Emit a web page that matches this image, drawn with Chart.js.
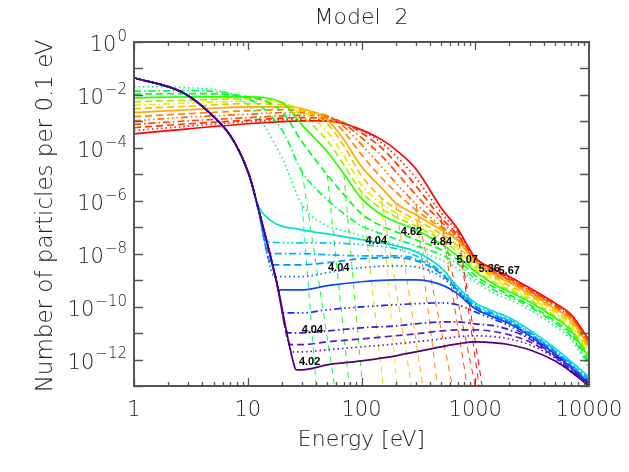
<!DOCTYPE html>
<html>
<head>
<meta charset="utf-8">
<title>Model 2</title>
<script src="https://cdn.jsdelivr.net/npm/chart.js@4.4.1/dist/chart.umd.min.js"></script>
<style>
  html, body { margin: 0; padding: 0; background: #fff; }
  #wrap { width: 629px; height: 472px; }
</style>
</head>
<body>
<div id="wrap"><canvas id="myChart" width="629" height="472"></canvas></div>
<script>
// ---- data (log10 of particles per 0.1 eV) ----

// energy grid for the hot curves [eV]
const hotE = [1, 3, 10, 20, 30, 50, 70, 100, 150, 200, 300, 500, 700, 1000, 1500, 2000, 3000, 5000, 7000, 10000];

// hot curves, from red (lowest at 1 eV) up to spring green (highest at 1 eV)
const hot0  = [-3.47, -3.28, -3.09, -3.01, -2.98, -2.98, -3.09, -3.32, -3.69, -4.07, -4.79, -6.26, -7.06, -8.15, -8.61, -8.87, -9.29, -9.86, -10.31, -11.26];
const hot1  = [-3.35, -3.18, -3.01, -2.94, -2.92, -2.94, -3.07, -3.35, -3.81, -4.30, -5.13, -6.45, -7.17, -8.19, -8.64, -8.91, -9.33, -9.89, -10.35, -11.30];
const hot2  = [-3.24, -3.09, -2.96, -2.88, -2.86, -2.88, -3.05, -3.43, -4.00, -4.56, -5.43, -6.64, -7.29, -8.19, -8.68, -8.95, -9.37, -9.93, -10.39, -11.33];
const hot3  = [-3.11, -2.98, -2.86, -2.79, -2.77, -2.82, -3.09, -3.62, -4.30, -4.90, -5.77, -6.79, -7.36, -8.23, -8.72, -8.99, -9.40, -9.97, -10.42, -11.37];
const hot4  = [-2.98, -2.84, -2.73, -2.67, -2.67, -2.79, -3.20, -3.88, -4.71, -5.32, -6.11, -6.95, -7.44, -8.27, -8.76, -9.02, -9.44, -10.01, -10.46, -11.41];
const hot5  = [-2.82, -2.71, -2.60, -2.56, -2.60, -2.82, -3.39, -4.26, -5.13, -5.66, -6.34, -7.02, -7.47, -8.31, -8.80, -9.06, -9.48, -10.05, -10.50, -11.44];
const hot6  = [-2.67, -2.56, -2.45, -2.45, -2.52, -2.94, -3.69, -4.71, -5.51, -6.08, -6.53, -7.10, -7.51, -8.31, -8.83, -9.10, -9.52, -10.08, -10.54, -11.52];
const hot7  = [-2.52, -2.43, -2.33, -2.37, -2.56, -3.09, -3.92, -5.05, -5.89, -6.30, -6.72, -7.25, -7.70, -8.42, -8.91, -9.21, -9.59, -10.16, -10.65, -11.63];
const hot8  = [-2.39, -2.31, -2.24, -2.29, -2.60, -3.39, -4.30, -5.40, -6.11, -6.45, -6.83, -7.36, -7.81, -8.50, -8.99, -9.29, -9.67, -10.24, -10.73, -11.71];
const hot9  = [-2.26, -2.20, -2.14, -2.29, -2.79, -3.73, -4.64, -5.66, -6.30, -6.61, -6.95, -7.47, -7.93, -8.61, -9.10, -9.37, -9.74, -10.35, -10.84, -11.82];
const hot10 = [-2.11, -2.07, -2.07, -2.29, -3.13, -4.15, -4.98, -5.92, -6.53, -6.79, -7.10, -7.63, -8.08, -8.68, -9.18, -9.44, -9.82, -10.42, -10.92, -11.94];
const hot11 = [-1.97, -1.95, -2.07, -2.64, -3.77, -5.02, -5.77, -6.49, -6.95, -7.17, -7.47, -7.85, -8.23, -8.83, -9.29, -9.55, -9.93, -10.54, -11.03, -12.09];
const hot12 = [-1.86, -1.84, -2.14, -3.32, -4.90, -5.96, -6.49, -6.95, -7.25, -7.44, -7.70, -8.04, -8.38, -8.95, -9.40, -9.63, -10.01, -10.61, -11.14, -12.20];
const hot13 = [-1.69, -1.73, -2.37, -4.37, -6.15, -6.95, -7.13, -7.32, -7.51, -7.66, -7.89, -8.23, -8.57, -9.06, -9.52, -9.74, -10.12, -10.73, -11.26, -12.31];
const hotSeries = [hot0, hot1, hot2, hot3, hot4, hot5, hot6, hot7, hot8, hot9, hot10, hot11, hot12, hot13];

// thin thermal parts of the hot curves: they leave the curve at hotE[start] and reach 1e-13 at endE
const thermStart = [12, 12, 11, 11, 10, 10, 9, 8, 8, 7, 6, 5, 4, 4];
const thermEndE  = [1150, 1080, 1000, 850, 630, 465, 345, 275, 205, 155, 102, 78, 58, 40];

// shared cold core of the cyan..purple curves
const coreE   = [1, 2.7, 4.6, 7.4, 10.4, 12, 18, 25.8, 28.6];
const coreLog = [-1.35, -1.92, -2.67, -3.69, -5.09, -6.07, -9.10, -12.27, -12.95];

// where each cold curve leaves the core
const coolKneeE   = [15.6, 14.6, 15.5, 16.4, 17.4, 18.5, 20.6, 22.6, 23.9, 24.9, 26.8];
const coolKneeLog = [-6.72, -7.55, -8.00, -8.42, -8.87, -9.37, -10.23, -10.99, -11.44, -11.71, -12.39];

// tails of the cold curves, from cyan (top) to purple (bottom)
const tailE  = [30, 50, 100, 200, 300, 500, 700, 1000, 1500, 2000, 3000, 5000, 7000, 10000];
const cool1  = [-7.10, -7.25, -7.47, -7.70, -7.93, -8.53, -9.25, -9.86, -10.20, -10.42, -10.88, -11.56, -12.09, -12.65];
const cool2  = [-7.59, -7.59, -7.66, -7.81, -8.08, -8.68, -9.33, -9.93, -10.27, -10.50, -10.95, -11.63, -12.16, -12.73];
const cool3  = [-8.00, -8.04, -8.08, -8.08, -8.19, -8.72, -9.37, -9.97, -10.31, -10.54, -10.99, -11.67, -12.20, -12.77];
const cool4  = [-8.42, -8.34, -8.19, -8.15, -8.26, -8.76, -9.40, -10.01, -10.35, -10.58, -11.03, -11.71, -12.24, -12.81];
const cool5  = [-8.87, -8.72, -8.53, -8.46, -8.50, -8.87, -9.44, -10.05, -10.39, -10.61, -11.07, -11.75, -12.28, -12.84];
const cool6  = [-9.37, -9.21, -9.06, -8.99, -8.99, -9.17, -9.52, -10.08, -10.42, -10.65, -11.10, -11.78, -12.31, -12.88];
const cool7  = [-10.24, -10.12, -10.01, -9.93, -9.89, -9.86, -9.93, -10.20, -10.50, -10.73, -11.18, -11.82, -12.35, -12.88];
const cool8  = [-10.99, -10.92, -10.80, -10.73, -10.65, -10.58, -10.58, -10.65, -10.73, -10.88, -11.22, -11.86, -12.39, -12.92];
const cool9  = [-11.44, -11.33, -11.22, -11.10, -11.03, -10.92, -10.88, -10.88, -10.95, -11.07, -11.33, -11.90, -12.43, -12.92];
const cool10 = [-11.71, -11.63, -11.52, -11.41, -11.33, -11.22, -11.14, -11.10, -11.14, -11.22, -11.44, -11.94, -12.47, -12.96];
const cool11 = [-12.39, -12.20, -12.05, -11.86, -11.71, -11.52, -11.41, -11.33, -11.37, -11.44, -11.63, -12.05, -12.47, -13.00];
const coolSeries = [cool1, cool2, cool3, cool4, cool5, cool6, cool7, cool8, cool9, cool10, cool11];

// kappa labels written on the plot
const annText = ['4.62', '4.84', '5.07', '5.36', '5.67', '4.04', '4.04', '4.04', '4.02'];
const annE    = [275, 503, 851, 1327, 1987, 135, 63, 37, 35];
const annLog  = [-7.17, -7.55, -8.23, -8.57, -8.65, -7.51, -8.53, -10.88, -12.09];

// axes
const xDecades = [1, 10, 100, 1000, 10000];
const xTickLabels = ['1', '10', '100', '1000', '10000'];
const yLabelExp = [0, -2, -4, -6, -8, -10, -12];

// ---- styles ----
const dashes = {
  solid: [],
  dot: [1.5, 3],
  dash: [7, 4],
  dashdot: [7, 3, 1.5, 3],
  dddot: [7, 3, 1.5, 3, 1.5, 3, 1.5, 3],
  thin: [6, 5]
};
const hotHue = [0, 6, 12, 18, 25, 32, 40, 50, 60, 75, 110, 125, 135, 150];
const hotStyle = ['solid', 'dot', 'dash', 'dashdot', 'dddot', 'dash', 'solid', 'dash', 'dashdot', 'dash', 'solid', 'dash', 'dashdot', 'dot'];
const coolColor = ['rgb(0,225,205)', 'rgb(0,200,230)', 'rgb(0,175,245)', 'rgb(0,145,255)', 'rgb(0,110,255)', 'rgb(15,70,250)',
                   'rgb(35,40,235)', 'rgb(60,25,215)', 'rgb(90,25,200)', 'rgb(100,20,170)', 'rgb(80,0,120)'];
const coolStyle = ['solid', 'dddot', 'dashdot', 'dash', 'dot', 'solid', 'dddot', 'dashdot', 'dash', 'dot', 'solid'];
const textColor = '#222';
const axisColor = '#555';
const fontName = '"DejaVu Sans", sans-serif';

function hotColor(i) {
  const h = hotHue[i];
  const l = (h > 45 && h < 90) ? 46 : 50;
  return 'hsl(' + h + ',100%,' + l + '%)';
}

// ---- datasets ----
const datasets = [];
let order = 0;
function addLine(points, color, style, width) {
  datasets.push({
    data: points,
    borderColor: color,
    borderWidth: width,
    borderDash: dashes[style],
    borderCapStyle: 'butt',
    pointRadius: 0,
    fill: false,
    cubicInterpolationMode: 'monotone',
    order: order--
  });
}

// thin thermal lines first (underneath)
hotSeries.forEach((s, i) => {
  const k = thermStart[i];
  addLine([{x: hotE[k], y: Math.pow(10, s[k])}, {x: thermEndE[i], y: 1e-13}], hotColor(i), 'thin', 1);
});

// hot curves, red first
hotSeries.forEach((s, i) => {
  addLine(hotE.map((e, j) => ({x: e, y: Math.pow(10, s[j])})), hotColor(i), hotStyle[i], 1.7);
});

// cold curves, cyan first so purple ends on top
coolSeries.forEach((s, k) => {
  const pts = [];
  coreE.forEach((e, j) => { if (e < coolKneeE[k]) pts.push({x: e, y: Math.pow(10, coreLog[j])}); });
  pts.push({x: coolKneeE[k], y: Math.pow(10, coolKneeLog[k])});
  tailE.forEach((e, j) => { if (e > coolKneeE[k]) pts.push({x: e, y: Math.pow(10, s[j])}); });
  addLine(pts, coolColor[k], coolStyle[k], 1.7);
});

// ---- frame, ticks, texts ----
const frame = {
  id: 'frame',
  afterDatasetsDraw(chart) {
    const ctx = chart.ctx, a = chart.chartArea;
    const sx = chart.scales.x, sy = chart.scales.y;
    ctx.save();

    // kappa labels
    ctx.fillStyle = '#000';
    ctx.font = 'bold 11px "Liberation Sans", Arial, sans-serif';
    ctx.textAlign = 'center';
    ctx.textBaseline = 'middle';
    annText.forEach((t, i) => {
      ctx.fillText(t, sx.getPixelForValue(annE[i]), sy.getPixelForValue(Math.pow(10, annLog[i])));
    });

    // ticks on all four sides
    ctx.strokeStyle = axisColor;
    ctx.lineWidth = 1.3;
    ctx.beginPath();
    xDecades.forEach(d => {
      for (let k = 1; k <= 9; k++) {
        const v = d * k;
        if (v > 10000) break;
        const px = Math.round(sx.getPixelForValue(v)) + 0.5;
        const len = k === 1 ? 8 : 4;
        ctx.moveTo(px, a.bottom); ctx.lineTo(px, a.bottom - len);
        ctx.moveTo(px, a.top); ctx.lineTo(px, a.top + len);
      }
    });
    for (let p = 0; p >= -13; p--) {
      const py = Math.round(sy.getPixelForValue(Math.pow(10, p))) + 0.5;
      ctx.moveTo(a.left, py); ctx.lineTo(a.left + 9, py);
      ctx.moveTo(a.right, py); ctx.lineTo(a.right - 9, py);
    }
    ctx.stroke();
    ctx.lineWidth = 2;
    ctx.strokeRect(a.left, a.top, a.right - a.left, a.bottom - a.top);

    // x tick labels
    ctx.fillStyle = textColor;
    ctx.font = '200 21px ' + fontName;
    ctx.textAlign = 'center';
    ctx.textBaseline = 'middle';
    xDecades.forEach((d, i) => {
      ctx.fillText(xTickLabels[i], sx.getPixelForValue(d), a.bottom + 25);
    });

    // y tick labels 10^n
    yLabelExp.forEach(p => {
      const py = sy.getPixelForValue(Math.pow(10, p));
      const sup = p === 0 ? '0' : '\u2212' + (-p);
      ctx.textAlign = 'right';
      ctx.font = '200 15px ' + fontName;
      const ws = ctx.measureText(sup).width;
      ctx.fillText(sup, a.left - 7, py - 5);
      ctx.font = '200 21px ' + fontName;
      ctx.fillText('10', a.left - 8 - ws, py + 4);
    });

    // titles
    ctx.textAlign = 'center';
    ctx.font = '200 22px ' + fontName;
    ctx.fillText('Model  2', (a.left + a.right) / 2, 18);
    ctx.fillText('Energy [eV]', (a.left + a.right) / 2, a.bottom + 54);
    ctx.font = '200 23px ' + fontName;
    ctx.translate(46, (a.top + a.bottom) / 2 + 2);
    ctx.rotate(-Math.PI / 2);
    ctx.fillText('Number of particles per 0.1 eV', 0, 0);
    ctx.restore();
  }
};

const ctx = document.getElementById('myChart').getContext('2d');
const myChart = new Chart(ctx, {
  type: 'line',
  data: { datasets: datasets },
  options: {
    responsive: false,
    animation: false,
    devicePixelRatio: 1,
    layout: { padding: { left: 134, top: 42, right: 40, bottom: 86 } },
    plugins: { legend: { display: false }, tooltip: { enabled: false }, title: { display: false } },
    scales: {
      x: { type: 'logarithmic', min: 1, max: 10000, display: false },
      y: { type: 'logarithmic', min: 1e-13, max: 1, display: false }
    }
  },
  plugins: [frame]
});
</script>
</body>
</html>
